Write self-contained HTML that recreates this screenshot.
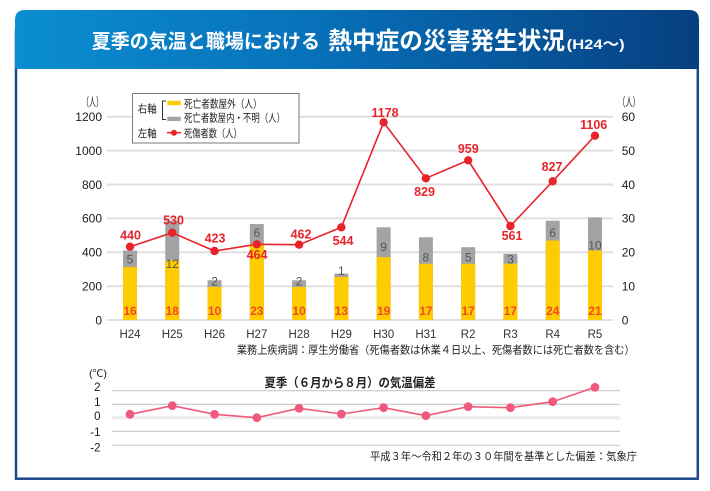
<!DOCTYPE html>
<html><head><meta charset="utf-8">
<style>
html,body{margin:0;padding:0;background:#fff;}
svg{display:block;}
text{font-family:"Liberation Sans","Noto Sans CJK JP",sans-serif;}
</style></head>
<body>
<svg width="710" height="491" viewBox="0 0 710 491" xmlns="http://www.w3.org/2000/svg">
<defs>
<linearGradient id="hg" x1="0" y1="0" x2="1" y2="0">
<stop offset="0" stop-color="#0b8dd2"/>
<stop offset="0.45" stop-color="#0770b8"/>
<stop offset="1" stop-color="#073f80"/>
</linearGradient>
</defs>
<rect x="0" y="0" width="710" height="491" fill="#fff"/>
<!-- frame -->
<rect x="16" y="30" width="681.8" height="448.7" fill="#fff" stroke="#1c4a8a" stroke-width="2.5"/>
<path d="M15,69 V20 Q15,10 25,10 H689 Q699,10 699,20 V69 Z" fill="url(#hg)"/>
<text x="91.7" y="47.9" font-size="19.5" font-weight="bold" fill="#fff" textLength="228.3" lengthAdjust="spacingAndGlyphs">夏季の気温と職場における</text>
<text x="328.3" y="49.1" font-size="24" font-weight="bold" fill="#fff" textLength="236.7" lengthAdjust="spacingAndGlyphs">熱中症の災害発生状況</text>
<text x="566.7" y="49" font-size="14" font-weight="bold" fill="#fff" textLength="58" lengthAdjust="spacingAndGlyphs">(H24〜)</text>

<!-- main gridlines -->
<g stroke="#e0e0e0" stroke-width="2">
<line x1="106.7" x2="613" y1="116.7" y2="116.7"/>
<line x1="106.7" x2="613" y1="150.6" y2="150.6"/>
<line x1="106.7" x2="613" y1="184.5" y2="184.5"/>
<line x1="106.7" x2="613" y1="218.4" y2="218.4"/>
<line x1="106.7" x2="613" y1="252.3" y2="252.3"/>
<line x1="106.7" x2="613" y1="286.2" y2="286.2"/>
<line x1="106.7" x2="613" y1="320" y2="320"/>
</g>
<!-- left ticks -->
<g font-size="12" fill="#1a1a1a" text-anchor="end">
<text x="102" y="121">1200</text>
<text x="102" y="154.9">1000</text>
<text x="102" y="188.8">800</text>
<text x="102" y="222.7">600</text>
<text x="102" y="256.6">400</text>
<text x="102" y="290.5">200</text>
<text x="102" y="324.3">0</text>
</g>
<g font-size="12" fill="#1a1a1a">
<text x="621.7" y="121">60</text>
<text x="621.7" y="154.9">50</text>
<text x="621.7" y="188.8">40</text>
<text x="621.7" y="222.7">30</text>
<text x="621.7" y="256.6">20</text>
<text x="621.7" y="290.5">10</text>
<text x="621.7" y="324.3">0</text>
</g>
<text x="82" y="106" font-size="12" fill="#1a1a1a" textLength="21" lengthAdjust="spacingAndGlyphs">（人）</text>
<text x="618" y="106" font-size="12" fill="#1a1a1a" textLength="22" lengthAdjust="spacingAndGlyphs">（人）</text>

<!-- bars -->
<g fill="#a3a3a6">
<rect x="123" y="250.49" width="14" height="69.51"/>
<rect x="165.27" y="220.7" width="14" height="99.3"/>
<rect x="207.54" y="280.28" width="14" height="39.72"/>
<rect x="249.81" y="224.01" width="14" height="95.99"/>
<rect x="292.08" y="280.28" width="14" height="39.72"/>
<rect x="334.35" y="273.66" width="14" height="46.34"/>
<rect x="376.62" y="227.32" width="14" height="92.68"/>
<rect x="418.89" y="237.25" width="14" height="82.75"/>
<rect x="461.16" y="247.18" width="14" height="72.82"/>
<rect x="503.43" y="253.8" width="14" height="66.2"/>
<rect x="545.7" y="220.7" width="14" height="99.3"/>
<rect x="587.97" y="217.39" width="14" height="102.61"/>
</g>
<g fill="#ffcc00">
<rect x="123" y="267.04" width="14" height="52.96"/>
<rect x="165.27" y="260.42" width="14" height="59.58"/>
<rect x="207.54" y="286.9" width="14" height="33.1"/>
<rect x="249.81" y="243.87" width="14" height="76.13"/>
<rect x="292.08" y="286.9" width="14" height="33.1"/>
<rect x="334.35" y="276.97" width="14" height="43.03"/>
<rect x="376.62" y="257.11" width="14" height="62.89"/>
<rect x="418.89" y="263.73" width="14" height="56.27"/>
<rect x="461.16" y="263.73" width="14" height="56.27"/>
<rect x="503.43" y="263.73" width="14" height="56.27"/>
<rect x="545.7" y="240.56" width="14" height="79.44"/>
<rect x="587.97" y="250.49" width="14" height="69.51"/>
</g>
<!-- gray labels -->
<g font-size="12" fill="#555" text-anchor="middle">
<text x="130" y="263.3">5</text>
<text x="172.27" y="268">12</text>
<text x="214.54" y="285.3">2</text>
<text x="256.81" y="237">6</text>
<text x="299.08" y="285.3">2</text>
<text x="341.35" y="275">1</text>
<text x="383.62" y="251">9</text>
<text x="425.89" y="261.6">8</text>
<text x="468.16" y="261.6">5</text>
<text x="510.43" y="263.3">3</text>
<text x="552.7" y="237">6</text>
<text x="594.97" y="249.3">10</text>
</g>
<!-- yellow labels -->
<g font-size="12" fill="#f04a23" text-anchor="middle" font-weight="bold">
<text x="130" y="315">16</text>
<text x="172.27" y="315">18</text>
<text x="214.54" y="315">10</text>
<text x="256.81" y="315">23</text>
<text x="299.08" y="315">10</text>
<text x="341.35" y="315">13</text>
<text x="383.62" y="315">19</text>
<text x="425.89" y="315">17</text>
<text x="468.16" y="315">17</text>
<text x="510.43" y="315">17</text>
<text x="552.7" y="315">24</text>
<text x="594.97" y="315">21</text>
</g>
<!-- red line -->
<polyline fill="none" stroke="#e8232b" stroke-width="1.6" points="130,246.7 172.27,232.7 214.54,251 256.81,244.3 299.08,244.7 341.35,227.3 383.62,122.3 425.89,178.3 468.16,160.3 510.43,226 552.7,181.3 594.97,135.7"/>
<g fill="#e8232b">
<circle cx="130" cy="246.7" r="4.2"/>
<circle cx="172.27" cy="232.7" r="4.2"/>
<circle cx="214.54" cy="251" r="4.2"/>
<circle cx="256.81" cy="244.3" r="4.2"/>
<circle cx="299.08" cy="244.7" r="4.2"/>
<circle cx="341.35" cy="227.3" r="4.2"/>
<circle cx="383.62" cy="122.3" r="4.2"/>
<circle cx="425.89" cy="178.3" r="4.2"/>
<circle cx="468.16" cy="160.3" r="4.2"/>
<circle cx="510.43" cy="226" r="4.2"/>
<circle cx="552.7" cy="181.3" r="4.2"/>
<circle cx="594.97" cy="135.7" r="4.2"/>
</g>
<g font-size="12.5" fill="#e8232b" text-anchor="middle" font-weight="bold">
<text x="130.5" y="239.5">440</text>
<text x="173.5" y="224.5">530</text>
<text x="215" y="242.5">423</text>
<text x="257" y="258.8">464</text>
<text x="301" y="238.5">462</text>
<text x="343" y="245.2">544</text>
<text x="385" y="116.8">1178</text>
<text x="424.5" y="196.2">829</text>
<text x="468.3" y="152.8">959</text>
<text x="512" y="240.2">561</text>
<text x="552" y="171.2">827</text>
<text x="593.7" y="129.2">1106</text>
</g>
<!-- x labels -->
<g font-size="11.5" fill="#333" text-anchor="middle">
<text x="130" y="337.8">H24</text>
<text x="172.27" y="337.8">H25</text>
<text x="214.54" y="337.8">H26</text>
<text x="256.81" y="337.8">H27</text>
<text x="299.08" y="337.8">H28</text>
<text x="341.35" y="337.8">H29</text>
<text x="383.62" y="337.8">H30</text>
<text x="425.89" y="337.8">H31</text>
<text x="468.16" y="337.8">R2</text>
<text x="510.43" y="337.8">R3</text>
<text x="552.7" y="337.8">R4</text>
<text x="594.97" y="337.8">R5</text>
</g>
<text x="236.7" y="353.5" font-size="11" fill="#222" textLength="398" lengthAdjust="spacingAndGlyphs">業務上疾病調：厚生労働省（死傷者数は休業４日以上、死傷者数には死亡者数を含む）</text>

<!-- legend -->
<rect x="132.5" y="93.5" width="166.5" height="49.5" fill="#fff" stroke="#7a7a7a" stroke-width="1"/>
<text x="137.7" y="112.5" font-size="11" fill="#222" textLength="19" lengthAdjust="spacingAndGlyphs">右軸</text>
<path d="M166,101 H162.5 V119.5 H166" fill="none" stroke="#333" stroke-width="1"/>
<rect x="167.3" y="100.8" width="13.4" height="4.4" fill="#ffcc00"/>
<rect x="167.3" y="116.7" width="13.4" height="4.4" fill="#a3a3a6"/>
<text x="184" y="107.5" font-size="11" fill="#222" textLength="77.7" lengthAdjust="spacingAndGlyphs">死亡者数屋外（人）</text>
<text x="184" y="121.5" font-size="11" fill="#222" textLength="101" lengthAdjust="spacingAndGlyphs">死亡者数屋内・不明（人）</text>
<text x="137.7" y="136.9" font-size="11" fill="#222" textLength="19" lengthAdjust="spacingAndGlyphs">左軸</text>
<line x1="167" y1="132.7" x2="181" y2="132.7" stroke="#e8232b" stroke-width="1.5"/>
<circle cx="174" cy="132.7" r="3" fill="#e8232b"/>
<text x="184" y="136.9" font-size="11" fill="#222" textLength="57.7" lengthAdjust="spacingAndGlyphs">死傷者数（人）</text>

<!-- bottom chart -->
<g stroke="#c8c8c8" stroke-width="1.2">
<line x1="111.7" x2="620" y1="390.7" y2="390.7"/>
<line x1="111.7" x2="620" y1="404.3" y2="404.3"/>
<line x1="111.7" x2="620" y1="431.3" y2="431.3"/>
<line x1="111.7" x2="620" y1="445.3" y2="445.3"/>
</g>
<line x1="111.7" x2="620" y1="417.7" y2="417.7" stroke="#ececec" stroke-width="3"/>
<g font-size="11.5" fill="#1a1a1a" text-anchor="end">
<text x="100.5" y="390.8">2</text>
<text x="100.5" y="405.8">1</text>
<text x="100.5" y="420.1">0</text>
<text x="100.5" y="435.8">-1</text>
<text x="100.5" y="451.4">-2</text>
</g>
<text x="89" y="377" font-size="10" fill="#1a1a1a" textLength="18" lengthAdjust="spacingAndGlyphs">(℃)</text>
<text x="264.5" y="387" font-size="12.5" font-weight="bold" fill="#222" textLength="171" lengthAdjust="spacingAndGlyphs">夏季（６月から８月）の気温偏差</text>
<polyline fill="none" stroke="#ef5a7c" stroke-width="1.6" points="130,414.3 172.27,405.7 214.54,414.3 256.81,417.7 299.08,408.3 341.35,414 383.62,407.7 425.89,415.7 468.16,406.7 510.43,407.7 552.7,401.7 594.97,387.3"/>
<g fill="#ef5a7c">
<circle cx="130" cy="414.3" r="4.4"/>
<circle cx="172.27" cy="405.7" r="4.4"/>
<circle cx="214.54" cy="414.3" r="4.4"/>
<circle cx="256.81" cy="417.7" r="4.4"/>
<circle cx="299.08" cy="408.3" r="4.4"/>
<circle cx="341.35" cy="414" r="4.4"/>
<circle cx="383.62" cy="407.7" r="4.4"/>
<circle cx="425.89" cy="415.7" r="4.4"/>
<circle cx="468.16" cy="406.7" r="4.4"/>
<circle cx="510.43" cy="407.7" r="4.4"/>
<circle cx="552.7" cy="401.7" r="4.4"/>
<circle cx="594.97" cy="387.3" r="4.4"/>
</g>
<text x="370" y="460" font-size="11" fill="#222" textLength="267" lengthAdjust="spacingAndGlyphs">平成３年〜令和２年の３０年間を基準とした偏差：気象庁</text>
</svg>
</body></html>
